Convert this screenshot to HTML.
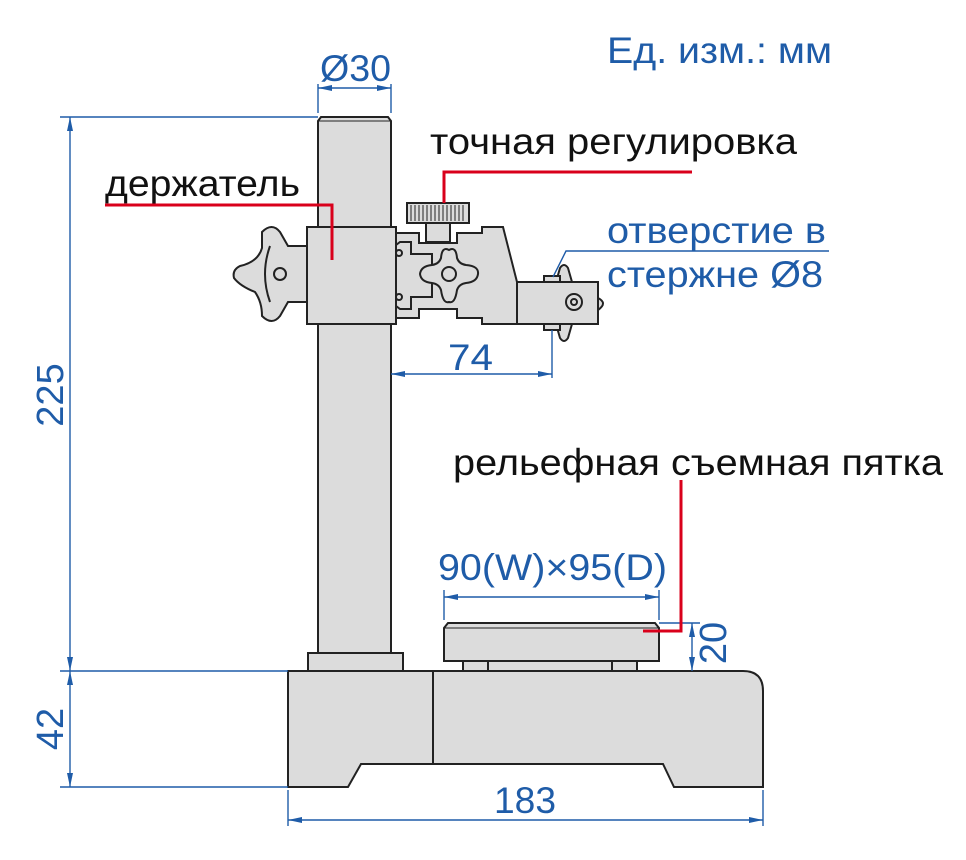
<!DOCTYPE html>
<html><head><meta charset="utf-8"><style>body{margin:0;background:#fff}svg{display:block}text{font-family:"Liberation Sans",sans-serif}</style></head><body>
<svg width="966" height="860" viewBox="0 0 966 860" xmlns="http://www.w3.org/2000/svg">
<defs>
<marker id="a" markerWidth="14" markerHeight="8" refX="14" refY="4" orient="auto-start-reverse" markerUnits="userSpaceOnUse"><path d="M0,1 L14,4 L0,7 Z" fill="#1f5ca8"/></marker>
</defs>
<g fill="#dcdcdc" stroke="#222" stroke-width="2">
<path d="M318,671 L318,121 L321,117 L388,117 L391,121 L391,671 Z"/>
<line x1="318" y1="121" x2="391" y2="121" stroke-width="1"/>
<rect x="308" y="653" width="95" height="18"/>
<path d="M288,671 L743,671 Q763,671 763,691 L763,787 L674,787 L663,764 L361,764 L348,787 L288,787 Z"/>
<line x1="433" y1="671" x2="433" y2="764"/>
<rect x="463" y="661" width="25" height="10"/>
<rect x="612" y="661" width="25" height="10"/>
<rect x="488" y="661" width="124" height="10"/>
<path d="M444,661 L444,628 L448,623 L655,623 L659,628 L659,661 Z"/>
<line x1="444" y1="628" x2="659" y2="628" stroke-width="1"/>
<path d="M262,232 Q272,222 280,232 L288,246 L307,246 L307,302 L288,302 L280,316 Q272,326 262,316 Q262,302 255,292 Q240,286 234,278 Q232,270 240,266 Q258,262 262,248 Z"/>
<path d="M270,246 Q260,274 270,302" fill="none"/>
<circle cx="280" cy="274" r="6"/>
<path d="M396,233 L419,233 L419,243 L457,243 L457,233 L482,233 L482,227 L503,227 L517,282 L517,324 L482,324 L482,318 L457,318 L457,309 L419,309 L419,318 L396,318 Z"/>
<path d="M396,245 L400,242 L411,242 L411,254 L432,254 L432,297 L411,297 L411,309 L400,309 L396,306"/>
<circle cx="399" cy="253" r="3"/><circle cx="399" cy="297" r="3"/>
<path d="M449,250 Q456,246 457,258 Q459,264 466,265 Q479,266 478,274 Q477,282 466,283 Q459,284 457,290 Q455,304 449,302 Q443,304 441,290 Q439,284 432,283 Q421,282 420,274 Q421,266 432,265 Q439,264 441,258 Q442,246 449,250 Z"/>
<circle cx="449" cy="274" r="7"/>
<rect x="426" y="222" width="24" height="20"/>
<rect x="407" y="203" width="62" height="20"/>
<path d="M556,282 L560,268 Q564,262 568,268 L572,282 Z"/>
<path d="M556,324 L560,338 Q564,344 568,338 L572,324 Z"/>
<rect x="544" y="276" width="16" height="6"/>
<rect x="544" y="324" width="16" height="6"/>
<path d="M598,298 Q608,303 598,310 Z"/>
<rect x="517" y="282" width="81" height="42"/>
<rect x="307" y="227" width="89" height="97"/>
<circle cx="574" cy="302" r="8"/><circle cx="574" cy="302" r="3"/>
</g>
<g stroke="#222" stroke-width="1">
<path d="M411,205 v16 M415,205 v16 M419,205 v16 M423,205 v16 M427,205 v16 M431,205 v16 M435,205 v16 M439,205 v16 M443,205 v16 M447,205 v16 M451,205 v16 M455,205 v16 M459,205 v16 M463,205 v16"/>
</g>
<g stroke="#1f5ca8" stroke-width="1.4" fill="none">
<line x1="318" y1="113" x2="318" y2="84"/><line x1="391" y1="113" x2="391" y2="84"/>
<line x1="318" y1="88" x2="391" y2="88" marker-start="url(#a)" marker-end="url(#a)"/>
<line x1="60" y1="117" x2="318" y2="117"/>
<line x1="60" y1="671" x2="288" y2="671"/>
<line x1="60" y1="787" x2="288" y2="787"/>
<line x1="70" y1="117" x2="70" y2="671" marker-start="url(#a)" marker-end="url(#a)"/>
<line x1="70" y1="671" x2="70" y2="787" marker-start="url(#a)" marker-end="url(#a)"/>
<line x1="288" y1="790" x2="288" y2="826"/><line x1="763" y1="790" x2="763" y2="826"/>
<line x1="288" y1="820" x2="763" y2="820" marker-start="url(#a)" marker-end="url(#a)"/>
<line x1="552" y1="330" x2="552" y2="378"/>
<line x1="391" y1="374" x2="552" y2="374" marker-start="url(#a)" marker-end="url(#a)"/>
<line x1="444" y1="590" x2="444" y2="620"/><line x1="659" y1="590" x2="659" y2="620"/>
<line x1="444" y1="597" x2="659" y2="597" marker-start="url(#a)" marker-end="url(#a)"/>
<line x1="659" y1="623" x2="700" y2="623"/>
<line x1="692" y1="623" x2="692" y2="671" marker-start="url(#a)" marker-end="url(#a)"/>
<polyline points="829,251 566,251 553,277"/>
</g>
<g stroke="#d9001b" stroke-width="3" fill="none">
<polyline points="105,205 332,205 332,260"/>
<polyline points="692,172 444,172 444,203"/>
<polyline points="681,480 681,631 643,631"/>
</g>
<g fill="#1f5ca8" font-size="37">
<text x="607" y="63" textLength="225" lengthAdjust="spacingAndGlyphs">Ед. изм.: мм</text>
<text x="320" y="81" textLength="71" lengthAdjust="spacingAndGlyphs">Ø30</text>
<text x="448" y="370" textLength="45" lengthAdjust="spacingAndGlyphs">74</text>
<text x="494" y="813" textLength="62" lengthAdjust="spacingAndGlyphs">183</text>
<text x="438" y="580" textLength="229" lengthAdjust="spacingAndGlyphs">90(W)×95(D)</text>
<text x="607" y="243" textLength="219" lengthAdjust="spacingAndGlyphs">отверстие в</text>
<text x="607" y="287" textLength="216" lengthAdjust="spacingAndGlyphs">стержне Ø8</text>
<text transform="translate(63,395) rotate(-90)" text-anchor="middle" font-size="38">225</text>
<text transform="translate(63,729) rotate(-90)" text-anchor="middle" font-size="38">42</text>
<text transform="translate(726,643) rotate(-90)" text-anchor="middle" font-size="38">20</text>
</g>
<g fill="#111" font-size="37">
<text x="105" y="196" textLength="195" lengthAdjust="spacingAndGlyphs">держатель</text>
<text x="430" y="154" textLength="367" lengthAdjust="spacingAndGlyphs">точная регулировка</text>
<text x="453" y="475" textLength="490" lengthAdjust="spacingAndGlyphs">рельефная съемная пятка</text>
</g>
</svg>
</body></html>
